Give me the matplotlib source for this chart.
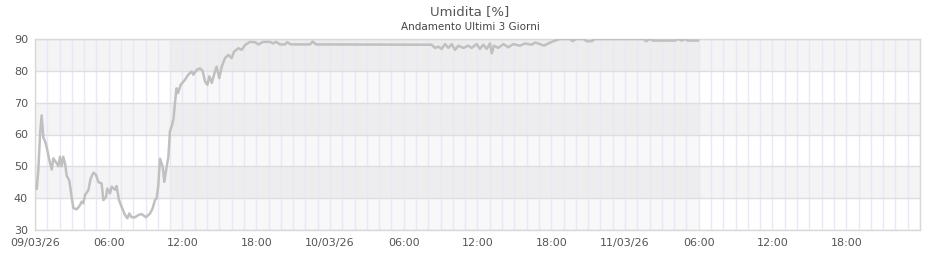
import matplotlib
matplotlib.use("Agg")
import matplotlib.pyplot as plt
import matplotlib.dates as mdates
import numpy as np
import pandas as pd
from datetime import datetime, timedelta

# ---- data ----
start = datetime(2026, 3, 9)
hours = [0.14, 0.27, 0.41, 0.54, 0.68, 0.81, 0.95, 1.22, 1.36, 1.49, 1.76, 1.90, 2.03, 2.17,
         2.30, 2.44, 2.58, 2.79, 2.98, 3.12, 3.39, 3.61, 3.80, 3.93, 4.07, 4.34, 4.53, 4.75,
         4.96, 5.15, 5.42, 5.56, 5.78, 5.88, 6.10, 6.24, 6.51, 6.64, 6.83, 7.05, 7.32, 7.51,
         7.67, 7.86, 8.14, 8.41, 8.68, 9.03, 9.36, 9.57, 9.76, 9.90, 10.03, 10.17, 10.39,
         10.52, 10.71, 10.85, 10.98, 11.15, 11.27, 11.39, 11.51, 11.63, 11.85, 12.20, 12.47,
         12.75, 12.88, 13.16, 13.42, 13.64, 13.83, 14.02, 14.18, 14.38, 14.64, 14.78, 14.99,
         15.19, 15.46, 15.73, 16.00, 16.19, 16.54, 16.82, 17.08, 17.49, 17.90, 18.17, 18.57,
         19.12, 19.39, 19.61, 19.93, 20.34, 20.53, 20.80, 22.37, 22.59, 22.86, 32.27, 32.54,
         32.81, 33.09, 33.36, 33.63, 33.90, 34.17, 34.44, 34.85, 35.25, 35.53, 35.93, 36.20,
         36.47, 36.75, 37.02, 37.16, 37.34, 37.69, 38.10, 38.51, 38.91, 39.46, 39.86, 40.41,
         40.68, 41.08, 41.41, 41.76, 42.17, 42.49, 42.71, 43.53, 43.74, 44.01, 44.61, 44.88,
         45.29, 45.56, 49.49, 49.71, 50.03, 50.30, 52.07, 52.34, 52.61, 52.88, 53.10, 53.94]
humidity = [43, 48.8, 60, 66, 59, 58, 56, 51, 49, 52.5, 51, 50, 53, 50,
            53, 51, 47, 45.6, 40.4, 36.9, 36.5, 37.5, 38.9, 38.4, 41, 42.5, 46.2, 48,
            47.4, 45.1, 44.6, 39.4, 40.4, 43, 41.5, 43.6, 42.6, 43.8, 39.4, 37.3, 34.7, 33.7,
            35.2, 34, 34, 34.7, 35, 34, 35.2, 36.8, 39.4, 40, 44, 52.4, 49.8,
            45.1, 49.8, 52.9, 61, 63, 65, 70, 74.5, 73.0, 75.6, 77.2, 78.8,
            79.8, 78.8, 80.3, 80.8, 80, 76.7, 75.6, 78.3, 76.2, 79.8, 81.3, 77.7,
            81.3, 84, 85, 84, 86, 87.1, 86.6, 88.1, 89.1, 89, 88.3, 89.1,
            89.1, 88.6, 89.1, 88.3, 88.3, 89, 88.3, 88.3, 89.2, 88.3, 88.2, 87.2,
            87.6, 86.9, 88.4, 87.2, 88.4, 86.6, 87.9, 87.2, 87.9, 87.2, 88.4, 86.9,
            88.2, 86.9, 88.6, 85.5, 87.9, 87.2, 88.4, 87.4, 88.4, 87.9, 88.6, 88.2,
            88.9, 88.4, 87.9, 88.6, 89.3, 89.7, 90, 90, 89.3, 90, 90, 89.3,
            89.3, 90, 90, 89.3, 90, 89.5, 89.5, 90, 89.5, 90, 89.5, 89.5]
shade_hours = [11.0, 54.0]
title = "Umidita [%]"
subtitle = "Andamento Ultimi 3 Giorni"

times = [start + timedelta(hours=h) for h in hours]

fig = plt.figure(figsize=(9.4, 2.6), dpi=100)
ax = fig.add_axes([35/940, 30/260, 885/940, 191/260])

x0 = start
x1 = start + timedelta(days=3)
ax.set_xlim(x0, x1)
ax.set_ylim(30, 90)

# bands
for lo in (40, 60, 80):
    ax.axhspan(lo, lo + 10, color="#f4f4f4", lw=0, zorder=0)
# shaded overlay
ax.axvspan(start + timedelta(hours=shade_hours[0]), start + timedelta(hours=shade_hours[1]),
           color="black", alpha=0.028, lw=0, zorder=0.5)

# grid
ax.xaxis.set_major_locator(mdates.HourLocator(byhour=[0, 6, 12, 18]))
ax.xaxis.set_minor_locator(mdates.HourLocator())
xmax_num = mdates.date2num(x1)
def fmt(x, pos=None):
    if x >= xmax_num - 1e-6:
        return ""
    d = mdates.num2date(x)
    if d.hour == 0 and d.minute == 0:
        return d.strftime("%d/%m/%y")
    return d.strftime("%H:%M")
ax.xaxis.set_major_formatter(plt.FuncFormatter(fmt))
ax.set_yticks([30, 40, 50, 60, 70, 80, 90])
ax.grid(True, which="both", axis="x", color="#e8e8f8", lw=1, zorder=1)
ax.grid(True, which="major", axis="y", color="#dedede", lw=1, zorder=1)
ax.set_axisbelow(True)

ax.plot(times, humidity, color="#c0c0c0", lw=1.8, zorder=3)

for s in ax.spines.values():
    s.set_color("#d8d8d8")
    s.set_linewidth(1)
ax.tick_params(axis="both", which="both", length=0, labelsize=8, labelcolor="#555555")
ax.tick_params(axis="x", pad=6)
ax.tick_params(axis="y", pad=5)

fig.text(0.5, 1 - 12/260, title, ha="center", va="center", fontsize=9.5, color="#555555")
fig.text(0.5, 1 - 27/260, subtitle, ha="center", va="center", fontsize=7.5, color="#444444")

fig.savefig("out.png", dpi=100)
